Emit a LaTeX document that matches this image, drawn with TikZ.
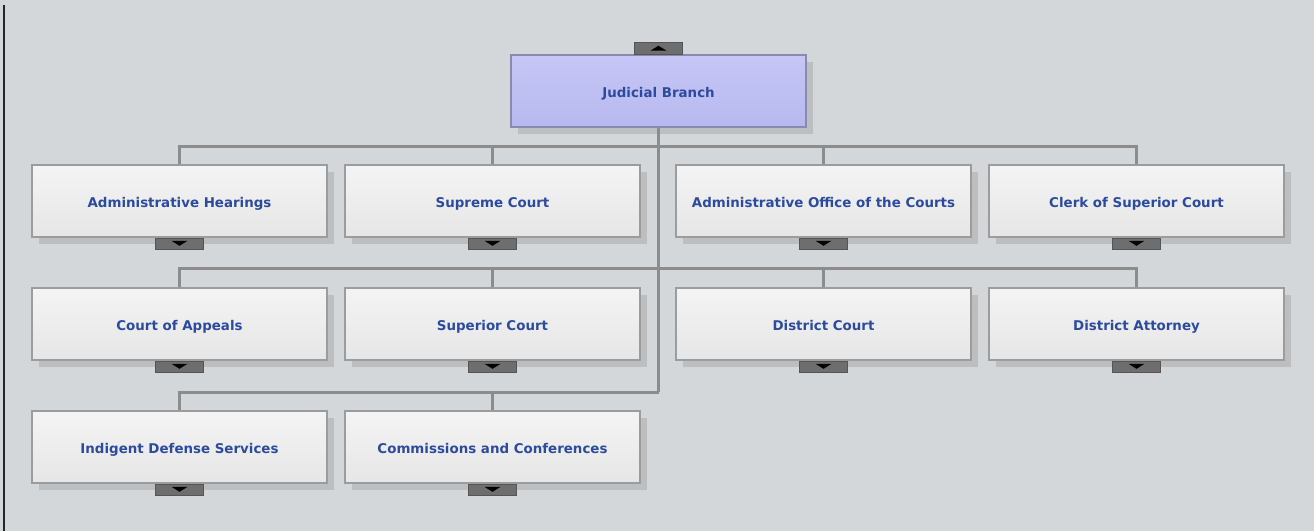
\documentclass[tikz,border=0pt]{standalone}
\usepackage{fontspec}
\setmainfont{DejaVu Sans}
\usetikzlibrary{positioning,shadows}
\definecolor{canvas}{HTML}{D3D7DA}
\definecolor{boxedge}{HTML}{9C9C9C}
\definecolor{boxtop}{HTML}{F4F4F4}
\definecolor{boxbot}{HTML}{E6E6E6}
\definecolor{roottop}{HTML}{C6C7F6}
\definecolor{rootbot}{HTML}{B7B8EE}
\definecolor{rootedge}{HTML}{8A8AAE}
\definecolor{label}{HTML}{2C4B9E}
\definecolor{shade}{HTML}{BDBEBF}
\definecolor{tabgray}{HTML}{6E6E6E}
\definecolor{tabedge}{HTML}{555555}
\definecolor{linkgray}{HTML}{8C8C8C}
\begin{document}
\begin{tikzpicture}[x=1pt,y=1pt]

          % Definitions
          \tikzstyle{unit} = [rectangle, minimum width=295pt, minimum height=72pt, inner sep=0pt, text height=13pt, text depth=0pt, text centered, draw=boxedge, line width=1.2pt, top color=boxtop, bottom color=boxbot, text=label, font=\fontsize{13.4}{15}\selectfont\bfseries, drop shadow={shadow xshift=7pt, shadow yshift=-7pt, fill=shade, opacity=1}]
          \tikzstyle{head} = [unit, draw=rootedge, top color=roottop, bottom color=rootbot]
          \tikzstyle{tabdown} = [rectangle, minimum width=48pt, minimum height=11pt, inner sep=0pt, draw=tabedge, fill=tabgray, path picture={\fill[black] ([shift={(-8pt,2.5pt)}]path picture bounding box.center) -- ++(16pt,0) -- ++(-8pt,-5pt) -- cycle;}]
          \tikzstyle{tabup} = [tabdown, minimum height=12pt, path picture={\fill[black] ([shift={(-8pt,-2.5pt)}]path picture bounding box.center) -- ++(16pt,0) -- ++(-8pt,5pt) -- cycle;}]
          \tikzstyle{link} = [linkgray, line width=3pt]

          \useasboundingbox (0,0) rectangle (1314,-531);
          \fill [canvas] (0,0) rectangle (1314,-531);
          \draw [black!85, line width=1.4pt] (4,-5) -- (4,-531);

          \node (jb) [head] at (658.5,-91) {Judicial Branch};
          \node (jbtab) [tabup, above=0pt of jb] {};

          \node (ah) [unit] at (179.5,-201) {Administrative Hearings};
          \node (sc) [unit, right=16.8pt of ah] {Supreme Court};
          \node (aoc) [unit, right=34.8pt of sc] {Administrative Office of the Courts};
          \node (csc) [unit, right=16.8pt of aoc] {Clerk of Superior Court};

          \node (coa) [unit, below=49.8pt of ah] {Court of Appeals};
          \node (suc) [unit, below=49.8pt of sc] {Superior Court};
          \node (dc) [unit, below=49.8pt of aoc] {District Court};
          \node (da) [unit, below=49.8pt of csc] {District Attorney};

          \node (ids) [unit, below=49.8pt of coa] {Indigent Defense Services};
          \node (cac) [unit, below=49.8pt of suc] {Commissions and Conferences};

          \foreach \n in {ah,sc,aoc,csc,coa,suc,dc,da,ids,cac}
            \node (\n tab) [tabdown, below=0pt of \n] {};

          \coordinate (trunk) at (jb.south |- 0,-392);
          \draw [link] (jb.south) -- (trunk);
          \draw [link] (ah.north) -- ++(0,18) -| (csc.north);
          \draw [link] (sc.north) -- ++(0,18);
          \draw [link] (aoc.north) -- ++(0,18);
          \draw [link] (coa.north) -- ++(0,19) -| (da.north);
          \draw [link] (suc.north) -- ++(0,19);
          \draw [link] (dc.north) -- ++(0,19);
          \draw [link] (ids.north) |- (trunk);
          \draw [link] (cac.north) -- ++(0,19);

\end{tikzpicture}
\end{document}
